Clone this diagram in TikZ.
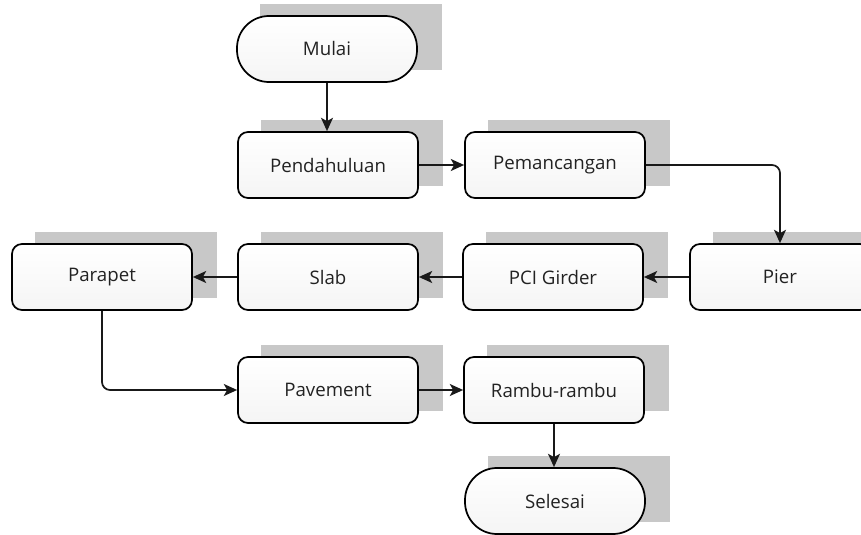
\documentclass[tikz,border=0pt]{standalone}
\usepackage{fontspec}
\setmainfont{Open Sans}
\usetikzlibrary{arrows.meta,positioning}
\definecolor{txt}{HTML}{222222}
\definecolor{backing}{HTML}{C8C8C8}
\tikzset{
  box/.style={draw=black, line width=1.3pt, rounded corners=7.5pt,
    top color=white, bottom color=black!4, text=txt,
    minimum width=135pt, minimum height=49.5pt, inner sep=0pt,
    font=\fontsize{14}{16}\selectfont},
  pill/.style={box, rounded corners=24pt},
  flow/.style={draw=black!90, line width=1.3pt, rounded corners=6pt,
    -{Stealth[length=10pt,width=9pt,inset=2.5pt]}},
}
% grey backing plate behind a node, shifted up and to the right
\newcommand{\backplate}[1]{%
  \fill[backing] ([shift={(23,-12)}]#1.south west) rectangle ([shift={(25,-12)}]#1.north east);}
\begin{document}
\begin{tikzpicture}[x=0.75pt,y=-0.75pt]
\useasboundingbox (0,0) rectangle (861,535);
% node positions (in pixel units, y downwards)
\path (327,49) coordinate (pMulai)
      (328,165) coordinate (pPend)
      (555,165) coordinate (pPem)
      (780,277) coordinate (pPier)
      (553,277) coordinate (pPCI)
      (328,277) coordinate (pSlab)
      (102,277) coordinate (pPara)
      (328,390) coordinate (pPave)
      (554,390) coordinate (pRambu)
      (555,501) coordinate (pSel);
% invisible placeholders to size the backing plates
\begin{scope}[every node/.style={minimum width=135pt, minimum height=49.5pt, inner sep=0pt}]
  \node (gMulai) at (pMulai) {};
  \node (gPend) at (pPend) {};
  \node (gPem) at (pPem) {};
  \node (gPier) at (pPier) {};
  \node (gPCI) at (pPCI) {};
  \node (gSlab) at (pSlab) {};
  \node (gPara) at (pPara) {};
  \node (gPave) at (pPave) {};
  \node (gRambu) at (pRambu) {};
  \node (gSel) at (pSel) {};
\end{scope}
\foreach \n in {gMulai,gPend,gPem,gPier,gPCI,gSlab,gPara,gPave,gRambu,gSel}{\backplate{\n}}
% flow steps
\node[pill] (mulai) at (pMulai) {Mulai};
\node[box] (pend) at (pPend) {Pendahuluan};
\node[box] (pem) at (pPem) {Pemancangan};
\node[box] (pier) at (pPier) {Pier};
\node[box] (pci) at (pPCI) {PCI Girder};
\node[box] (slab) at (pSlab) {Slab};
\node[box] (para) at (pPara) {Parapet};
\node[box] (pave) at (pPave) {Pavement};
\node[box] (rambu) at (pRambu) {Rambu-rambu};
\node[pill] (sel) at (pSel) {Selesai};
% connectors
\draw[flow] (mulai.south) -- (mulai.south |- pend.north);
\draw[flow] (pend) -- (pem);
\draw[flow] (pem.east) -| (pier.north);
\draw[flow] (pier) -- (pci);
\draw[flow] (pci) -- (slab);
\draw[flow] (slab) -- (para);
\draw[flow] (para.south) |- (pave.west);
\draw[flow] (pave) -- (rambu);
\draw[flow] (rambu.south) -- (rambu.south |- sel.north);
\end{tikzpicture}
\end{document}
